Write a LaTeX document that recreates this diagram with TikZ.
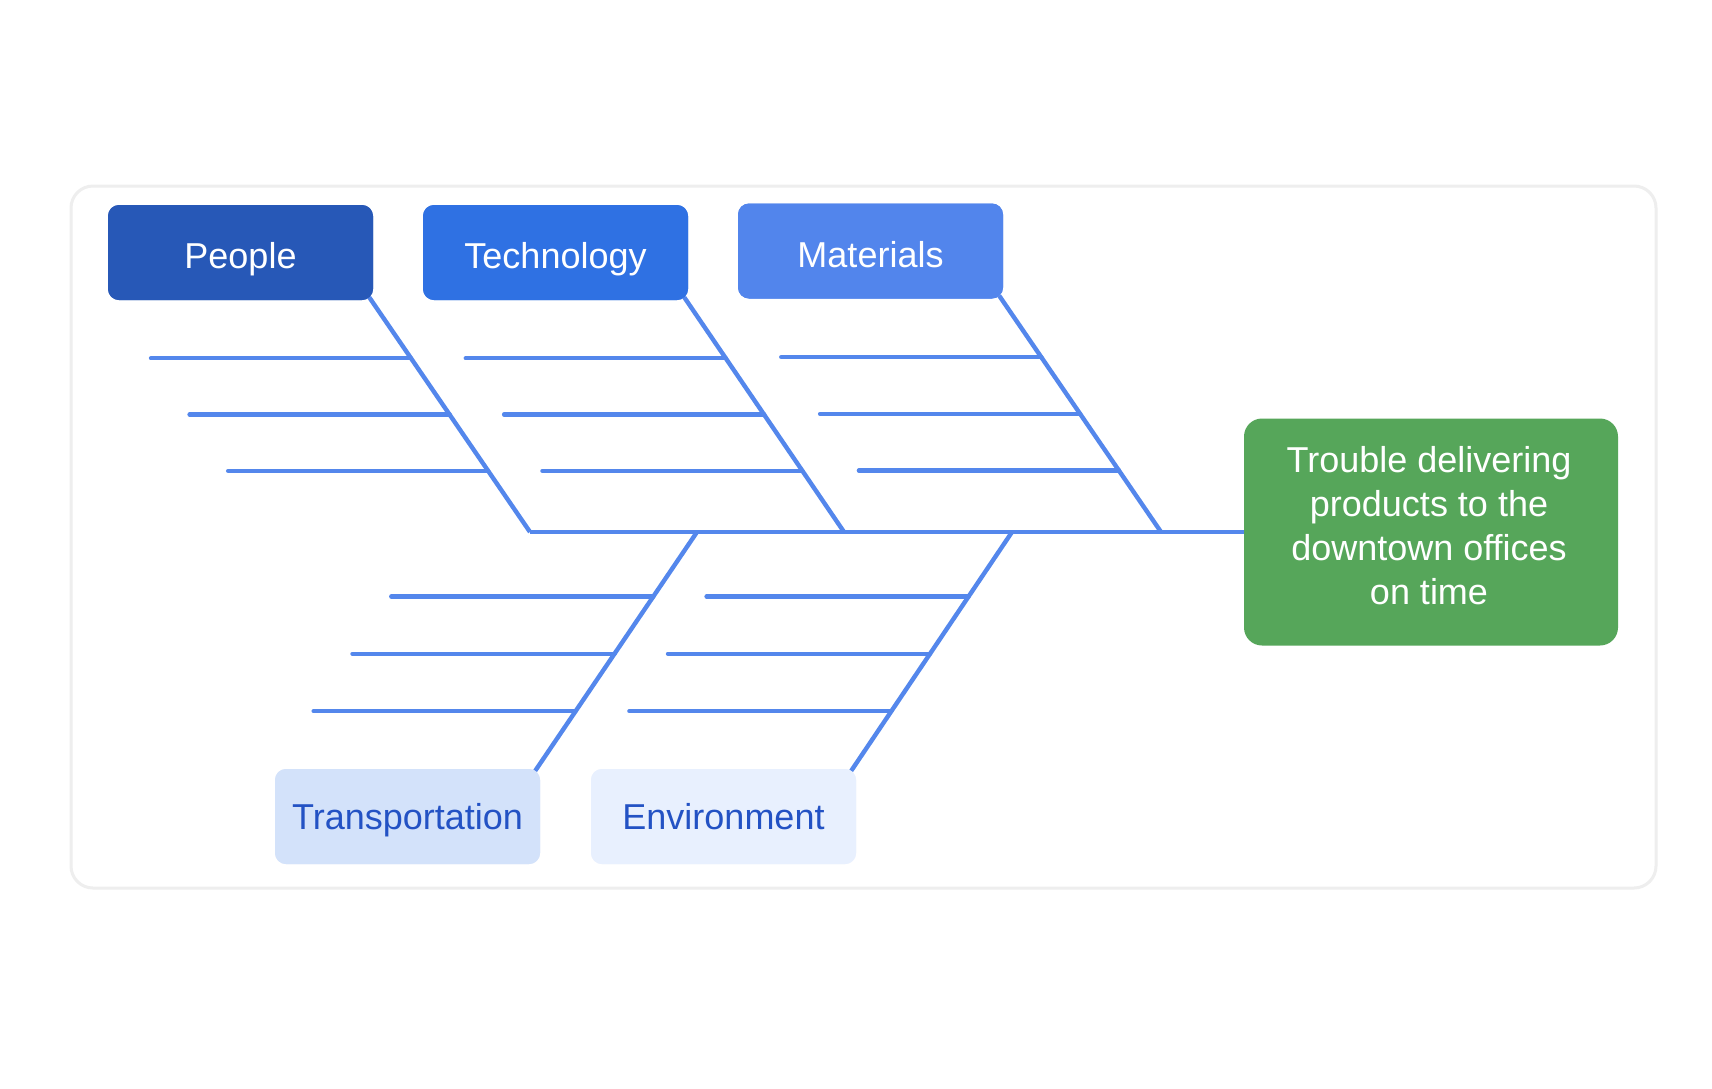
\documentclass[tikz,border=0pt]{standalone}
\usepackage{fontspec}
\setmainfont{Liberation Sans}
\usetikzlibrary{calc}
\definecolor{bone}{HTML}{5487EC}
\definecolor{cPeople}{HTML}{2758B7}
\definecolor{cTech}{HTML}{2F71E3}
\definecolor{cMat}{HTML}{5285EC}
\definecolor{cGreen}{HTML}{56A65A}
\definecolor{cTrans}{HTML}{D3E2FA}
\definecolor{cEnv}{HTML}{E8F0FE}
\definecolor{cDark}{HTML}{2352C4}
\definecolor{cFrame}{HTML}{EEEEEE}
\tikzset{
  catbox/.style={rounded corners=11pt, minimum width=265pt, minimum height=95pt, inner sep=0pt,
    font=\fontsize{36}{44}\selectfont},
  topcat/.style={catbox, fill=#1, text=white, text height=35pt, text depth=3pt},
  botcat/.style={catbox, fill=#1, text=cDark, text height=28pt, text depth=3pt},
  fishline/.style={draw=bone, line width=4.4pt},
  rib/.style={draw=bone, line width=4.4pt, line cap=round},
}
\begin{document}
\begin{tikzpicture}[x=1pt,y=-1pt]
\useasboundingbox (0,0) rectangle (1712,1088);
\fill[white] (0,0) rectangle (1712,1088);
\draw[cFrame, line width=3pt, rounded corners=22pt] (71,186) rectangle (1656,888);

% spine junctions
\coordinate (pj) at (530,532);
\coordinate (tj) at (844,532);
\coordinate (mj) at (1161,532);
\coordinate (trj) at (697,532);
\coordinate (ej) at (1012,532);

% box positions
\path (240.5,252.5) coordinate (peopleC) (555.5,252.5) coordinate (techC) (870.5,251) coordinate (matC)
      (407.5,816.5) coordinate (transC) (723.5,816.5) coordinate (envC);

% effect box
\node[rounded corners=18pt, fill=cGreen, minimum width=374pt, minimum height=227pt,
  inner sep=0pt] (effect) at (1431,532) {};
\node[text=white, align=center, font=\fontsize{36}{44}\selectfont, inner sep=0pt]
  (effecttext) at ($(effect.center)+(-2,-6)$)
  {Trouble delivering\\products to the\\downtown offices\\on time};

% category boxes
\node[topcat=cPeople] (people) at (peopleC) {People};
\node[topcat=cTech] (tech) at (techC) {Technology};
\node[topcat=cMat] (mat) at (matC) {Materials};
\node[botcat=cTrans] (trans) at (transC) {Transportation};
\node[botcat=cEnv] (env) at (envC) {Environment};

% bones
\draw[fishline] (pj) -- (effect.west);
\draw[fishline] ($(people.south east)+(-4,-3)$) coordinate (ps) -- (pj);
\draw[fishline] ($(tech.south east)+(-4,-3)$) coordinate (ts) -- (tj);
\draw[fishline] ($(mat.south east)+(-4,-3)$) coordinate (ms) -- (mj);
\draw[fishline] (trj) -- ($(trans.north east)+(-5,2)$) coordinate (trs);
\draw[fishline] (ej) -- ($(env.north east)+(-5,2)$) coordinate (es);

\foreach \s/\j in {ps/pj, ts/tj, ms/mj}{
  \foreach \t in {0.26,0.5,0.74}{
    \draw[rib] ($(\s)!\t!(\j)$) -- ++(-260,0);
  }
}
\foreach \s/\j in {trs/trj, es/ej}{
  \foreach \t in {0.27,0.51,0.75}{
    \draw[rib] ($(\j)!\t!(\s)$) -- ++(-262,0);
  }
}

% redraw boxes on top of bone ends
\node[topcat=cPeople] at (people) {People};
\node[topcat=cTech] at (tech) {Technology};
\node[topcat=cMat] at (mat) {Materials};
\node[botcat=cTrans] at (trans) {Transportation};
\node[botcat=cEnv] at (env) {Environment};
\end{tikzpicture}
\end{document}
